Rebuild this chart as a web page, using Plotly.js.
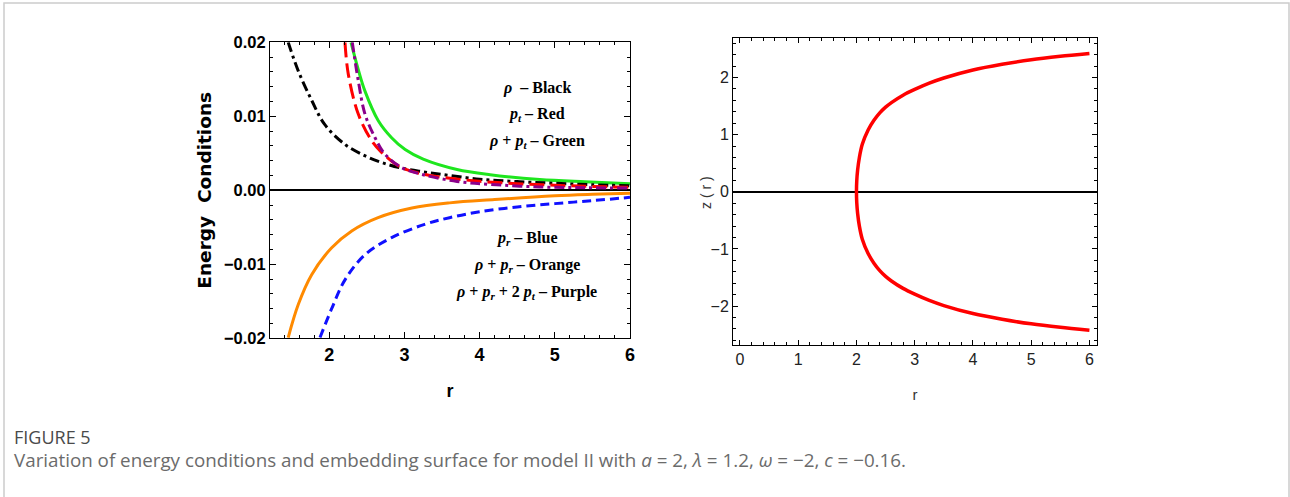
<!DOCTYPE html>
<html>
<head>
<meta charset="utf-8">
<script src="https://cdn.plot.ly/plotly-3.0.1.min.js"></script>
<style>
  html, body { margin: 0; padding: 0; background: #ffffff; }
  #chart { width: 1290px; height: 497px; }
</style>
</head>
<body>
<div id="chart"></div>
<script>
// ---------- Left panel: energy conditions ----------
const rRho = [1.455, 1.59, 1.77, 1.94, 2.21, 2.48, 2.70, 2.96, 3.25, 3.5, 4.0, 4.5, 5.0, 5.5, 6.0];
const rho  = [0.0200, 0.0161, 0.0121, 0.0089, 0.0062, 0.00465, 0.00375, 0.0030, 0.0025, 0.00215, 0.0015, 0.00118, 0.00095, 0.00075, 0.0006];

const rPt = [2.21, 2.254, 2.387, 2.565, 2.70, 2.92, 3.2, 3.5, 4.0, 4.5, 5.0, 5.5, 6.0];
const pt  = [0.0200, 0.0157, 0.0103, 0.0067, 0.0051, 0.0033, 0.0023, 0.00175, 0.00122, 0.0009, 0.00068, 0.00052, 0.0004];

const rRhoPt = [2.29, 2.387, 2.476, 2.653, 2.83, 3.01, 3.25, 3.7, 4.14, 4.8, 5.4, 6.0];
const rhoPt  = [0.0200, 0.0163, 0.0134, 0.0094, 0.0071, 0.0055, 0.0042, 0.0028, 0.0021, 0.00146, 0.00115, 0.0009];

const rPr = [1.878, 2.033, 2.21, 2.476, 2.83, 3.27, 3.6, 4.0, 4.5, 5.0, 5.5, 6.0];
const pr  = [-0.0199, -0.0160, -0.0121, -0.0087, -0.0064, -0.0046, -0.0037, -0.0029, -0.00225, -0.0018, -0.0014, -0.00095];

const rRhoPr = [1.455, 1.59, 1.767, 2.03, 2.30, 2.65, 3.10, 3.6, 4.2, 5.0, 5.5, 6.0];
const rhoPr  = [-0.0199, -0.0154, -0.0114, -0.0078, -0.0055, -0.0037, -0.0024, -0.0017, -0.00125, -0.00075, -0.00055, -0.0004];

const rSum = [2.307, 2.387, 2.476, 2.61, 2.74, 2.96, 3.25, 3.7, 4.14, 4.8, 5.4, 6.0];
const sumRhoPrPt = [0.0200, 0.0148, 0.0103, 0.0071, 0.0049, 0.0031, 0.0021, 0.0012, 0.0008, 0.00045, 0.00035, 0.0003];

// ---------- Right panel: embedding surface z(r), upper branch (lower branch is its mirror) ----------
const rEmb = [2.0, 2.005, 2.02, 2.05, 2.1, 2.2, 2.3, 2.4, 2.5, 2.6, 2.8, 3.0, 3.25, 3.5, 4.0, 4.5, 5.0, 5.5, 6.0];
const zEmb = [0.0, 0.19, 0.38, 0.60, 0.83, 1.08, 1.25, 1.38, 1.48, 1.56, 1.69, 1.79, 1.90, 1.99, 2.13, 2.23, 2.31, 2.37, 2.42];

// Tick labels
const leftYTicks = [-0.02, -0.01, 0, 0.01, 0.02];
const leftYTickText = ['\u22120.02', '\u22120.01', '0.00', '0.01', '0.02'];
const leftXTicks = [2, 3, 4, 5, 6];
const rightXTicks = [0, 1, 2, 3, 4, 5, 6];
const rightYTicks = [-2, -1, 0, 1, 2];
const rightYTickText = ['\u22122', '\u22121', '0', '1', '2'];

// Legend text lines
const legendTop = [
  '<i>\u03c1</i>  \u2013 Black',
  '<i>p<sub>t</sub></i> \u2013 Red',
  '<i>\u03c1</i> + <i>p<sub>t</sub></i> \u2013 Green'
];
const legendBottom = [
  '<i>p<sub>r</sub></i> \u2013 Blue',
  '<i>\u03c1</i> + <i>p<sub>r</sub></i> \u2013 Orange',
  '<i>\u03c1</i> + <i>p<sub>r</sub></i> + 2 <i>p<sub>t</sub></i> \u2013 Purple'
];

const W = 1290, H = 497;
const px = v => v / W;
const py = v => 1 - v / H;

const sans = '"Liberation Sans", Arial, sans-serif';
const serif = '"Liberation Serif", "DejaVu Serif", serif';

function line(x, y, color, dash, xa, ya) {
  return { x: x, y: y, type: 'scatter', mode: 'lines', xaxis: xa, yaxis: ya,
           line: { color: color, width: 3, dash: dash, shape: 'spline', smoothing: 1 },
           hoverinfo: 'skip', showlegend: false };
}

const embX = rEmb.slice().reverse().concat(rEmb.slice(1));
const embY = zEmb.slice().reverse().map(v => -v).concat(zEmb.slice(1));

const data = [
  line(rRhoPt, rhoPt, '#1ee61e', 'solid', 'x', 'y'),
  line(rRhoPr, rhoPr, '#ff8a00', 'solid', 'x', 'y'),
  line(rPr, pr, '#1010ff', '9px,5px', 'x', 'y'),
  line(rRho, rho, '#000000', '10px,4px,3px,4px', 'x', 'y'),
  line(rPt, pt, '#ff0000', '15px,6px', 'x', 'y'),
  line(rSum, sumRhoPrPt, '#8b008b', '10px,4px,3px,4px', 'x', 'y'),
  { x: embX, y: embY, type: 'scatter', mode: 'lines', xaxis: 'x2', yaxis: 'y2',
    line: { color: '#ff0000', width: 3.5, shape: 'spline', smoothing: 0.8 }, hoverinfo: 'skip', showlegend: false }
];

const annotations = [];
const topY = [0.01385, 0.01022, 0.00658];
const botY = [-0.0065, -0.01013, -0.01377];
legendTop.forEach((t, i) => annotations.push({ xref: 'x', yref: 'y', x: 4.76, y: topY[i], text: t, showarrow: false,
  font: { family: serif, size: 16, color: '#000', weight: 'bold' }, xanchor: 'center', yanchor: 'middle' }));
legendBottom.forEach((t, i) => annotations.push({ xref: 'x', yref: 'y', x: 4.63, y: botY[i], text: t, showarrow: false,
  font: { family: serif, size: 16, color: '#000', weight: 'bold' }, xanchor: 'center', yanchor: 'middle' }));

// Caption
annotations.push({ xref: 'paper', yref: 'paper', x: px(12), y: py(437), xanchor: 'left', yanchor: 'middle',
  text: 'FIGURE 5', showarrow: false, font: { family: '"Open Sans", "Noto Sans", sans-serif', size: 18, color: '#4a4a4a' } });
annotations.push({ xref: 'paper', yref: 'paper', x: px(12), y: py(460), xanchor: 'left', yanchor: 'middle',
  text: 'Variation of energy conditions and embedding surface for model II with <i>a</i> = 2, <i>\u03bb</i> = 1.2, <i>\u03c9</i> = \u22122, <i>c</i> = \u22120.16.',
  showarrow: false, font: { family: '"Open Sans", "Noto Sans", sans-serif', size: 18.8, color: '#6b6b6b' } });

// Right panel y title
annotations.push({ xref: 'paper', yref: 'paper', x: px(706), y: py(192), xanchor: 'center', yanchor: 'middle',
  text: 'z ( r )', textangle: -90, showarrow: false, font: { family: sans, size: 14, color: '#333' } });

const layout = {
  width: W, height: H,
  margin: { l: 0, r: 0, t: 0, b: 0 },
  paper_bgcolor: '#ffffff', plot_bgcolor: '#ffffff',
  showlegend: false,
  xaxis: {
    domain: [px(270), px(630)], range: [1.213, 6], anchor: 'y',
    tickvals: leftXTicks, ticktext: leftXTicks.map(String),
    ticks: 'inside', ticklen: 6, tickwidth: 1, tickcolor: '#000',
    minor: { dtick: 0.2, tick0: 0, ticks: 'inside', ticklen: 3, tickcolor: '#000', showgrid: false },
    showline: true, linecolor: '#000', linewidth: 1, mirror: 'allticks',
    showgrid: false, zeroline: false,
    tickfont: { family: sans, size: 18, color: '#000', weight: 'bold' },
    title: { text: '<b>r</b>', font: { family: sans, size: 18, color: '#000' }, standoff: 20 }
  },
  yaxis: {
    domain: [py(338.3), py(42.3)], range: [-0.02, 0.02], anchor: 'x',
    tickvals: leftYTicks, ticktext: leftYTickText,
    ticks: 'inside', ticklen: 6, tickwidth: 1, tickcolor: '#000',
    minor: { dtick: 0.002, tick0: 0, ticks: 'inside', ticklen: 3, tickcolor: '#000', showgrid: false },
    showline: true, linecolor: '#000', linewidth: 1, mirror: 'allticks',
    showgrid: false, zeroline: true, zerolinecolor: '#000', zerolinewidth: 2,
    tickfont: { family: sans, size: 16.5, color: '#000', weight: 'bold' },
    title: { text: '<b>Energy  Conditions</b>', font: { family: '"DejaVu Sans", sans-serif', size: 18.5, color: '#000' }, standoff: 7 }
  },
  xaxis2: {
    domain: [px(733), px(1097)], range: [-0.12, 6.13], anchor: 'y2',
    tickvals: rightXTicks, ticktext: rightXTicks.map(String),
    ticks: 'inside', ticklen: 5, tickwidth: 1, tickcolor: '#000',
    minor: { dtick: 0.2, tick0: 0, ticks: 'inside', ticklen: 3, tickcolor: '#000', showgrid: false },
    showline: true, linecolor: '#000', linewidth: 1, mirror: 'allticks',
    showgrid: false, zeroline: false,
    tickfont: { family: sans, size: 16, color: '#222' },
    title: { text: 'r', font: { family: sans, size: 15, color: '#333' }, standoff: 22 }
  },
  yaxis2: {
    domain: [py(345), py(38)], range: [-2.68, 2.69], anchor: 'x2',
    tickvals: rightYTicks, ticktext: rightYTickText,
    ticks: 'inside', ticklen: 5, tickwidth: 1, tickcolor: '#000',
    minor: { dtick: 0.2, tick0: 0, ticks: 'inside', ticklen: 3, tickcolor: '#000', showgrid: false },
    showline: true, linecolor: '#000', linewidth: 1, mirror: 'allticks',
    showgrid: false, zeroline: true, zerolinecolor: '#000', zerolinewidth: 2,
    tickfont: { family: sans, size: 16, color: '#222' }
  },
  shapes: [
    { type: 'rect', xref: 'paper', yref: 'paper', x0: px(4), x1: px(1289), y0: -0.05, y1: py(3),
      line: { color: '#cccccc', width: 1.5 }, fillcolor: 'rgba(0,0,0,0)', layer: 'below' }
  ],
  annotations: annotations
};

Plotly.newPlot('chart', data, layout, { staticPlot: true, displayModeBar: false });
</script>
</body>
</html>
